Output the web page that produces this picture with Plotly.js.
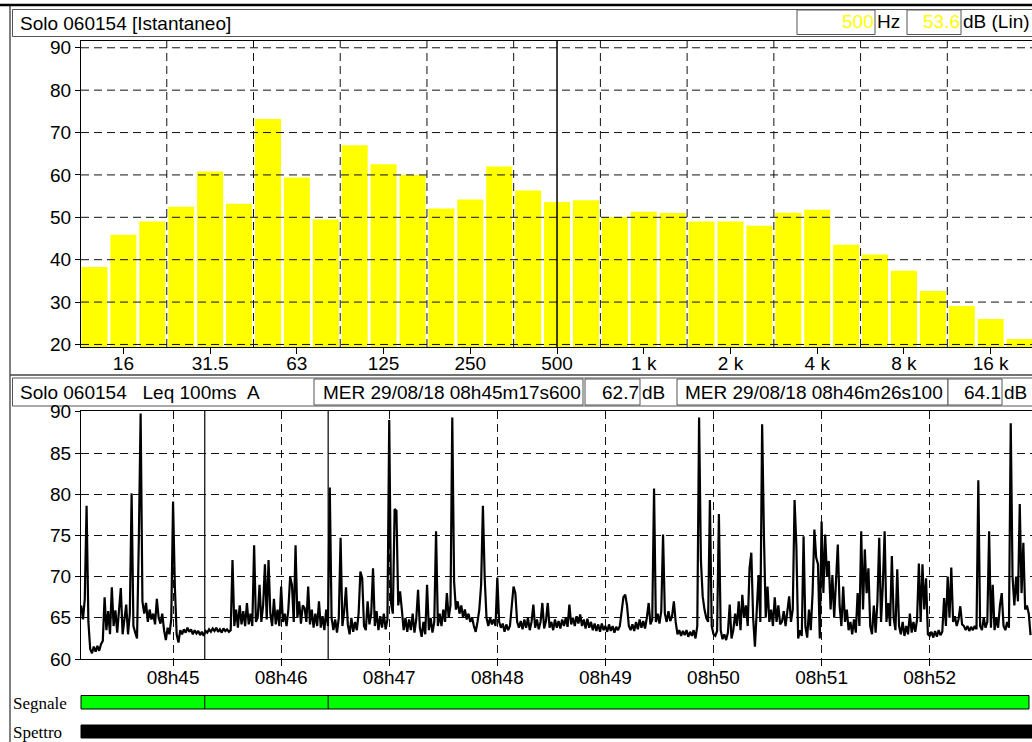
<!DOCTYPE html>
<html><head><meta charset="utf-8">
<script src="https://cdn.plot.ly/plotly-3.0.1.min.js"></script>
<style>html,body{margin:0;padding:0;background:#fff;overflow:hidden}#chart{width:1032px;height:742px}</style>
</head><body><div id="chart"></div>
<script>
// ---------- DATA ----------
const bandLabels = ["12.5","16","20","25","31.5","40","50","63","80","100","125","160","200","250","315","400","500","630","800","1k","1.25k","1.6k","2k","2.5k","3.15k","4k","5k","6.3k","8k","10k","12.5k","16k","20k"];
const bandLevels = [38.3,45.9,49.0,52.5,60.8,53.2,73.2,59.4,49.5,67.0,62.5,60.0,52.1,54.2,62.0,56.3,53.6,54.0,50.1,51.3,51.0,49.0,49.0,48.0,51.1,51.8,43.5,41.2,37.4,32.6,29.1,26.0,21.3];
const tickBands = ["16","31.5","63","125","250","500","1k","2k","4k","8k","16k"];
const tickText = ["16","31.5","63","125","250","500","1 k","2 k","4 k","8 k","16 k"];
const selectedBand = "500";
const yTicksTop = [20,30,40,50,60,70,80,90];
const yTicksBottom = [60,65,70,75,80,85,90];

const leqDate = "2018-08-29";
const leqStartSec = 9;   // seconds after 08:44:00
const leqStepSec = 1;
const leqValues = [
66.5,64.8,67.3,78.6,64.5,61.2,60.7,61.5,60.9,61.6,
61.0,61.8,62.2,67.5,63.5,65.8,63.0,68.7,64.0,65.9,
63.2,66.0,68.6,63.0,64.5,66.6,63.0,65.5,80.1,64.0,
63.2,62.5,74.5,89.8,67.0,65.5,66.8,64.5,66.0,64.8,
65.5,64.2,67.3,65.0,64.3,65.5,63.5,62.3,63.8,63.0,
64.8,79.1,68.8,63.0,62.0,63.5,63.0,63.6,63.2,63.8,
63.3,63.6,63.0,63.5,63.1,63.4,62.9,63.3,62.8,63.4,
63.2,63.6,63.3,63.7,63.4,63.8,63.3,63.6,63.2,63.7,
63.4,63.6,63.3,63.5,72.0,64.0,66.0,63.8,66.5,64.2,
65.8,64.0,66.8,64.2,65.5,64.0,73.8,64.5,65.0,69.0,
64.5,66.5,71.5,64.8,72.0,65.5,64.0,67.3,64.2,66.0,
64.0,68.8,64.5,65.5,64.0,66.0,70.0,69.0,64.5,73.8,
65.0,67.0,64.3,66.5,66.2,64.5,68.8,64.2,66.0,63.8,
65.5,64.0,67.0,63.8,65.2,63.5,66.0,64.0,80.8,65.0,
63.5,64.8,63.2,65.0,74.7,64.0,65.8,68.7,64.2,63.0,
65.0,63.3,64.5,63.5,65.5,70.6,69.8,64.0,63.5,67.0,
64.2,65.5,71.0,64.0,65.8,63.5,65.2,63.8,65.5,63.6,
64.8,89.0,66.8,65.5,78.2,78.0,66.5,68.2,66.0,63.5,
65.0,63.3,64.8,63.5,65.5,63.2,64.8,68.4,63.8,62.7,
64.5,63.0,69.0,63.5,65.0,63.2,64.5,75.5,64.0,65.5,
64.0,66.0,64.5,68.0,65.0,66.5,89.3,69.4,66.0,67.0,
65.5,66.5,65.0,66.0,64.8,65.5,64.5,65.0,64.0,63.3,
64.5,66.0,69.0,78.6,69.8,65.0,64.0,65.0,64.2,64.8,
64.0,69.9,64.5,63.8,64.3,63.3,64.2,63.5,64.0,66.0,
68.8,68.0,64.5,63.8,64.6,63.6,64.8,63.8,65.0,63.5,
64.5,66.6,63.8,64.8,63.6,64.5,66.8,63.7,64.6,66.8,
63.8,64.5,63.5,64.8,63.8,64.6,63.7,64.8,64.0,65.0,
63.9,66.6,64.2,65.0,64.0,65.2,64.3,65.4,64.0,64.8,
63.7,64.9,63.8,64.5,63.5,64.3,63.4,64.2,63.3,64.3,
63.5,64.0,63.3,64.2,63.4,64.0,63.2,63.9,63.5,64.0,
65.5,67.5,67.8,66.5,64.0,63.5,64.2,63.4,64.5,63.6,
64.8,63.8,64.6,63.7,65.0,66.8,64.2,64.8,80.7,64.5,
65.5,64.3,65.8,75.1,65.5,64.5,65.8,64.6,65.2,67.0,
64.5,63.0,63.5,62.8,63.4,62.9,63.5,62.7,63.3,62.8,
63.5,62.5,64.0,89.3,72.0,67.6,66.0,65.0,64.5,79.3,
64.0,63.0,62.8,63.4,77.6,63.5,62.4,63.0,62.3,63.2,
66.6,62.5,63.5,65.5,64.0,67.0,63.5,67.8,65.0,66.5,
64.0,71.0,72.9,65.0,61.5,66.0,70.2,64.5,88.5,74.9,
65.0,68.8,64.5,66.0,64.0,67.5,64.5,66.5,64.2,64.5,
65.8,64.0,65.5,67.6,64.5,66.0,79.3,73.7,62.5,63.5,
62.8,74.9,64.0,62.6,66.0,63.5,68.0,75.7,72.3,71.5,
62.5,76.7,68.0,75.1,70.0,71.9,66.0,70.2,65.0,69.5,
73.9,66.5,64.0,68.8,64.5,66.0,63.5,64.5,63.0,64.8,
63.2,68.0,64.0,75.5,66.0,73.3,68.0,71.0,64.0,63.0,
66.5,63.2,67.0,74.7,64.5,69.0,75.5,64.5,66.8,64.0,
72.5,65.0,63.5,70.9,64.0,63.0,64.5,62.8,64.0,63.0,
65.5,63.2,64.5,63.3,64.8,71.6,64.5,71.5,66.0,69.8,
63.0,62.8,63.3,62.6,63.4,62.7,63.5,62.9,63.3,67.4,
64.0,70.0,65.0,71.1,64.5,65.2,64.0,64.8,66.4,64.2,
64.0,63.5,64.0,63.4,63.9,63.5,64.0,63.6,81.7,64.0,
63.5,65.0,63.8,64.5,75.5,63.8,69.0,63.5,65.0,63.8,
66.5,68.0,64.0,63.5,64.5,63.8,88.6,70.0,66.5,70.0,
67.0,78.8,68.0,74.1,66.0,66.5,65.5,62.9
];
const cursorTimes = ["08:45:17.6","08:46:26.1"];
const cursorLevels = ["62.7","64.1"];
const timeRange = ["08:44:08.9","08:52:56.8"];

// ---------- HELPERS ----------
const W = 1032, H = 742;
const PX = x => x / W;
const PY = y => 1 - y / H;
const pad = n => String(n).padStart(2, "0");
function secToStamp(s) {
  const total = 8 * 3600 + 44 * 60 + s;
  const h = Math.floor(total / 3600), m = Math.floor((total % 3600) / 60), sec = total % 60;
  return leqDate + " " + pad(h) + ":" + pad(m) + ":" + pad(sec);
}
const leqTimes = leqValues.map((v, i) => secToStamp(leqStartSec + i * leqStepSec));
const stamp = t => leqDate + " " + t;

const FONT = '"Liberation Sans", Arial, sans-serif';
const SERIF = '"Liberation Serif", "Times New Roman", serif';
const GRID_DASH = "8px,5px";

// ---------- TRACES ----------
const traces = [
  { type: "bar", x: bandLabels, y: bandLevels, xaxis: "x", yaxis: "y",
    marker: { color: "#ffff00", line: { width: 0 } }, hoverinfo: "skip" },
  { type: "scatter", mode: "lines", x: leqTimes, y: leqValues, xaxis: "x2", yaxis: "y2",
    line: { color: "#000", width: 2.2 }, hoverinfo: "skip" }
];

// ---------- SHAPES ----------
const shapes = [];
const L = (x0, y0, x1, y1, color, width, dash) => shapes.push({ type: "line", xref: "paper", yref: "paper",
  x0: PX(x0), y0: PY(y0), x1: PX(x1), y1: PY(y1), line: { color: color, width: width, dash: dash || "solid" }, layer: "above" });
const R = (x0, y0, x1, y1, fill, color, width) => shapes.push({ type: "rect", xref: "paper", yref: "paper",
  x0: PX(x0), y0: PY(y0), x1: PX(x1), y1: PY(y1), fillcolor: fill, line: { color: color, width: width }, layer: "below" });

// frame
L(0, 5, W, 5, "#000", 2.5);
L(10, 5, 10, H, "#000", 1);
// top header
R(12.5, 9.5, W + 2, 36.5, "#fff", "#555", 1);
R(797, 10, 875, 34.5, "#fff", "#555", 1);
R(907, 10, 961, 34.5, "#fff", "#555", 1);
// separator
L(10, 375, W, 375, "#444", 1.5);
// bottom header
R(12.5, 378, W + 2, 406, "#fff", "#555", 1);
R(314, 379, 583, 405, "#fff", "#555", 1);
R(585, 379, 640, 405, "#fff", "#555", 1);
R(677, 379, 948, 405, "#fff", "#555", 1);
R(948, 379, 1002, 405, "#fff", "#555", 1);
// status bars
R(81, 695.5, 1029, 709, "#00ff00", "#000", 1);
R(81, 725, W + 2, 738, "#000", "#000", 1);

// top spectrum grid (drawn over bars)
yTicksTop.forEach(v => shapes.push({ type: "line", xref: "x domain", yref: "y", x0: 0, x1: 1, y0: v, y1: v,
  line: { color: "#111", width: 1, dash: GRID_DASH }, layer: "above" }));
tickBands.map(b => bandLabels.indexOf(b) + 1.5).filter(e => e < bandLabels.length - 0.6).forEach(e =>
  shapes.push({ type: "line", xref: "x", yref: "y domain", x0: e, x1: e, y0: 0, y1: 1,
    line: { color: "#111", width: 1, dash: GRID_DASH }, layer: "above" }));
// spectrum cursor
const selIdx = bandLabels.indexOf(selectedBand);
shapes.push({ type: "line", xref: "x", yref: "y domain", x0: selIdx, x1: selIdx, y0: 0, y1: 1,
  line: { color: "#000", width: 1.5 }, layer: "above" });
// time cursors
cursorTimes.forEach(t => {
  shapes.push({ type: "line", xref: "x2", yref: "y2 domain", x0: stamp(t), x1: stamp(t), y0: 0, y1: 1,
    line: { color: "#000", width: 1.2 }, layer: "above" });
  shapes.push({ type: "line", xref: "x2", yref: "paper", x0: stamp(t), x1: stamp(t), y0: PY(709), y1: PY(695.5),
    line: { color: "#000", width: 1 }, layer: "above" });
});

// ---------- ANNOTATIONS ----------
const annotations = [];
const T = (text, x, y, anchor, color, font, size) => annotations.push({ text: text, xref: "paper", yref: "paper",
  x: PX(x), y: PY(y), xanchor: anchor, yanchor: "middle", showarrow: false, borderpad: 0,
  font: { family: font || FONT, size: size || 19, color: color || "#000" } });
const nb = "\u00a0";
T("Solo 060154 [Istantaneo]", 19, 23, "left");
T(selectedBand, 875, 22, "right", "#ffff00");
T("Hz", 876, 22, "left");
T(String(bandLevels[selIdx]), 961, 22, "right", "#ffff00");
T("dB (Lin)", 962, 22, "left");
T("Solo 060154" + nb + nb + nb + "Leq 100ms" + nb + nb + "A", 19, 392, "left");
T("MER 29/08/18 " + cursorTimes[0].replace(/^(\d\d):(\d\d):(\d\d)\.(\d)$/, "$1h$2m$3s$400"), 322, 392, "left");
T(cursorLevels[0], 640, 392, "right");
T("dB", 641, 392, "left");
T("MER 29/08/18 " + cursorTimes[1].replace(/^(\d\d):(\d\d):(\d\d)\.(\d)$/, "$1h$2m$3s$400"), 684, 392, "left");
T(cursorLevels[1], 1002, 392, "right");
T("dB", 1003, 392, "left");
T("Segnale", 12, 703, "left", "#000", SERIF, 17);
T("Spettro", 12, 732, "left", "#000", SERIF, 17);

// ---------- LAYOUT ----------
const axisFont = { family: FONT, size: 19, color: "#000" };
const layout = {
  width: W, height: H, margin: { l: 0, r: 0, t: 0, b: 0, pad: 0 },
  paper_bgcolor: "#fff", plot_bgcolor: "rgba(0,0,0,0)", showlegend: false,
  font: { family: FONT, size: 19, color: "#000" },
  bargap: 0.1,
  xaxis: { domain: [PX(81), 1], anchor: "y", type: "category", range: [-0.467, 32.43],
    tickmode: "array", tickvals: tickBands, ticktext: tickText, tickfont: axisFont,
    ticks: "outside", ticklen: 6, tickcolor: "#000", ticklabelstandoff: -7, showgrid: false, zeroline: false,
    showline: true, linecolor: "#000", linewidth: 1, mirror: true, fixedrange: true },
  yaxis: { domain: [PY(347), PY(41)], anchor: "x", range: [19.4, 91.6],
    tickmode: "array", tickvals: yTicksTop, tickfont: axisFont,
    ticks: "outside", ticklen: 5, tickcolor: "#000", showgrid: false, zeroline: false,
    showline: true, linecolor: "#000", linewidth: 1, fixedrange: true },
  xaxis2: { domain: [PX(81), 1], anchor: "y2", type: "date", range: [stamp(timeRange[0]), stamp(timeRange[1])],
    tick0: stamp("08:45:00"), dtick: 60000, tickformat: "%Hh%M", tickfont: axisFont,
    ticks: "outside", ticklen: 6, tickcolor: "#000", ticklabelstandoff: -5,
    showgrid: true, gridcolor: "#111", griddash: GRID_DASH, gridwidth: 1, zeroline: false,
    showline: true, linecolor: "#000", linewidth: 1, mirror: true, fixedrange: true },
  yaxis2: { domain: [PY(659), PY(411)], anchor: "x2", range: [60, 90.1],
    tickmode: "array", tickvals: yTicksBottom, tickfont: axisFont,
    ticks: "outside", ticklen: 5, tickcolor: "#000",
    showgrid: true, gridcolor: "#111", griddash: GRID_DASH, gridwidth: 1, zeroline: false,
    showline: true, linecolor: "#000", linewidth: 1, fixedrange: true },
  shapes: shapes, annotations: annotations
};
Plotly.newPlot("chart", traces, layout, { displayModeBar: false, staticPlot: true });
</script></body></html>
